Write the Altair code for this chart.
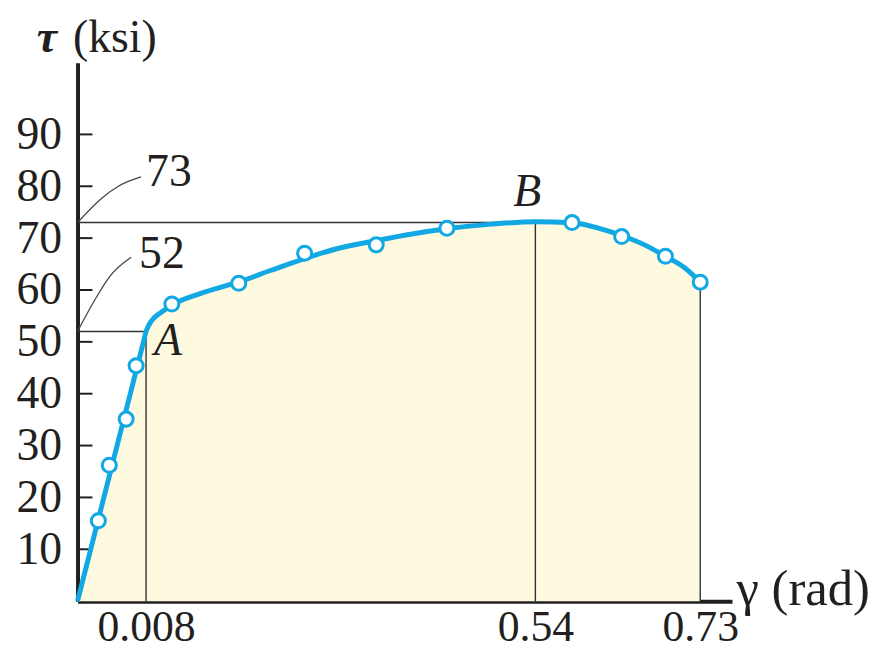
import altair as alt
import pandas as pd

# ---------------- data ----------------
# smooth stress-strain curve (gamma in rad, tau in ksi)
curve_gamma = [0, 0.004, 0.0077, 0.008, 0.01207, 0.01885, 0.02971, 0.04328, 0.07991, 0.13554,
               0.17897, 0.22374, 0.26987, 0.32143, 0.37164, 0.41913, 0.48019, 0.54, 0.58233,
               0.61551, 0.63954, 0.6670, 0.68989, 0.71277, 0.73]
curve_tau = [0, 26.0, 50.0, 52.0, 53.3, 54.6, 55.8, 57.1, 59.2, 61.6,
             63.8, 66.0, 68.0, 69.5, 70.8, 71.8, 72.7, 73.15, 72.96,
             71.8, 70.5, 68.6, 66.5, 64.2, 61.5]

# test points (open circles)
point_gamma = [0.00243, 0.00371, 0.00568, 0.00684, 0.04328, 0.1347, 0.2247, 0.3225, 0.4191,
               0.5823, 0.6395, 0.6899, 0.73]
point_tau = [15.5, 26.2, 35.1, 45.4, 57.3, 61.3, 67.1, 68.7, 71.9, 73.0, 70.3, 66.5, 61.5]

# thin guide lines (x, x2, y, y2)
guide_x = [0, 0, 0.008, 0.54, 0.73]
guide_x2 = [0.008, 0.54, 0.008, 0.54, 0.73]
guide_y = [52, 73, 0, 0, 0]
guide_y2 = [52, 73, 52, 73, 61.5]

# curved leader lines to the "73" and "52" labels
leader_id = ["73", "73", "73", "73", "52", "52", "52", "52"]
leader_gamma = [0, 0.0029, 0.00487, 0.00742, 0, 0.0022, 0.00371, 0.00626]
leader_tau = [73, 77.8, 80.1, 81.8, 52, 58.6, 62.5, 66.3]

# value labels
value_text = ["73", "52"]
value_gamma = [0.008, 0.00719]
value_tau = [80.1, 64.2]

# point labels
point_text = ["A", "B"]
point_label_gamma = [0.0189, 0.529]
point_label_tau = [47.5, 76.2]
point_label_align = ["left", "center"]

# axis ticks / labels
y_ticks = [10, 20, 30, 40, 50, 60, 70, 80, 90]
x_ticks = [0.008, 0.54, 0.73]
y_symbol = ["τ"]

# ---------------- styling ----------------
FONT = "Liberation Serif"
INK = "#231F20"
BLUE = "#12A8E4"
FILL = "#FEFAE0"
FS = 46
XFS = 44
TFS = 46
GFS = 51

curve_df = pd.DataFrame({"gamma": curve_gamma, "tau": curve_tau})
point_df = pd.DataFrame({"gamma": point_gamma, "tau": point_tau})
guide_df = pd.DataFrame({"gamma": guide_x, "gamma2": guide_x2, "tau": guide_y, "tau2": guide_y2})
leader_df = pd.DataFrame({"id": leader_id, "gamma": leader_gamma, "tau": leader_tau})
value_df = pd.DataFrame({"text": value_text, "gamma": value_gamma, "tau": value_tau})
plabel_df = pd.DataFrame({"text": point_text, "gamma": point_label_gamma, "tau": point_label_tau,
                          "align": point_label_align})
tick_df = pd.DataFrame({"tau": y_ticks})
sym_df = pd.DataFrame({"text": y_symbol})

W, H = 659, 542

x_scale = alt.Scale(domain=[0, 0.008, 0.54, 0.73, 0.7666], range=[0, 69, 461, 627, W],
                    nice=False, zero=False)
y_scale = alt.Scale(domain=[0, 103.8], nice=False, zero=False)

x_axis = alt.Axis(
    values=x_ticks, format=".3~f", grid=False, ticks=False, tickSize=0,
    domainColor=INK, domainWidth=4, labelFont=FONT, labelFontSize=XFS, labelColor=INK,
    labelBaseline="alphabetic", labelPadding=40, labelFlush=False, labelOverlap=False,
    title="γ (rad)", titleFont=FONT, titleFontSize=GFS, titleFontWeight="normal", titleColor=INK,
    titleX=663, titleY=3, titleAlign="left", titleBaseline="alphabetic", titleAngle=0,
)
y_axis = alt.Axis(
    values=y_ticks, grid=False, ticks=False, tickSize=0,
    domainColor=INK, domainWidth=4, labelFont=FONT, labelFontSize=FS, labelColor=INK,
    labelPadding=16, labelFlush=False, labelOverlap=False,
    title="(ksi)", titleFont=FONT, titleFontSize=TFS, titleFontWeight="normal", titleColor=INK,
    titleX=-5, titleY=-11, titleAlign="left", titleBaseline="alphabetic", titleAngle=0,
)

X = alt.X("gamma:Q", scale=x_scale, axis=x_axis)
Y = alt.Y("tau:Q", scale=y_scale, axis=y_axis)

area = alt.Chart(curve_df).mark_area(color=FILL, interpolate="monotone").encode(x=X, y=Y)

guides = alt.Chart(guide_df).mark_rule(color="#333333", strokeWidth=1.4).encode(
    x="gamma:Q", x2="gamma2:Q", y="tau:Q", y2="tau2:Q"
)

ticks = alt.Chart(tick_df).mark_rule(color=INK, strokeWidth=2).encode(
    y="tau:Q", x=alt.value(0), x2=alt.value(15)
)

leaders = alt.Chart(leader_df).mark_line(color="#444444", strokeWidth=1.3, interpolate="monotone").encode(
    x="gamma:Q", y="tau:Q", detail="id:N"
)

line = alt.Chart(curve_df).mark_line(color=BLUE, strokeWidth=5, interpolate="monotone").encode(
    x="gamma:Q", y="tau:Q"
)

points = alt.Chart(point_df).mark_point(
    shape="circle", filled=True, fill="white", stroke=BLUE, strokeWidth=3, size=200, opacity=1
).encode(x="gamma:Q", y="tau:Q")

values = alt.Chart(value_df).mark_text(
    font=FONT, fontSize=FS, color=INK, align="left", baseline="alphabetic"
).encode(x="gamma:Q", y="tau:Q", text="text:N")

plabels_a = alt.Chart(plabel_df[plabel_df["align"] == "left"]).mark_text(
    font=FONT, fontSize=FS, fontStyle="italic", color=INK, align="left", baseline="alphabetic"
).encode(x="gamma:Q", y="tau:Q", text="text:N")

plabels_b = alt.Chart(plabel_df[plabel_df["align"] == "center"]).mark_text(
    font=FONT, fontSize=FS, fontStyle="italic", color=INK, align="center", baseline="alphabetic"
).encode(x="gamma:Q", y="tau:Q", text="text:N")

symbol = alt.Chart(sym_df).mark_text(
    font=FONT, fontSize=TFS, fontStyle="italic", fontWeight="bold", color=INK,
    align="left", baseline="alphabetic"
).encode(x=alt.value(-41), y=alt.value(-11), text="text:N")

chart = alt.layer(
    area, guides, ticks, leaders, line, points, values, plabels_a, plabels_b, symbol
).properties(
    width=W, height=H,
    autosize=alt.AutoSizeParams(type="none"),
    padding={"left": 70, "top": 53, "right": 150, "bottom": 51},
).configure(background="white").configure_view(strokeWidth=0)

chart.save("out.html", embed_options={"renderer": "svg", "actions": False})
